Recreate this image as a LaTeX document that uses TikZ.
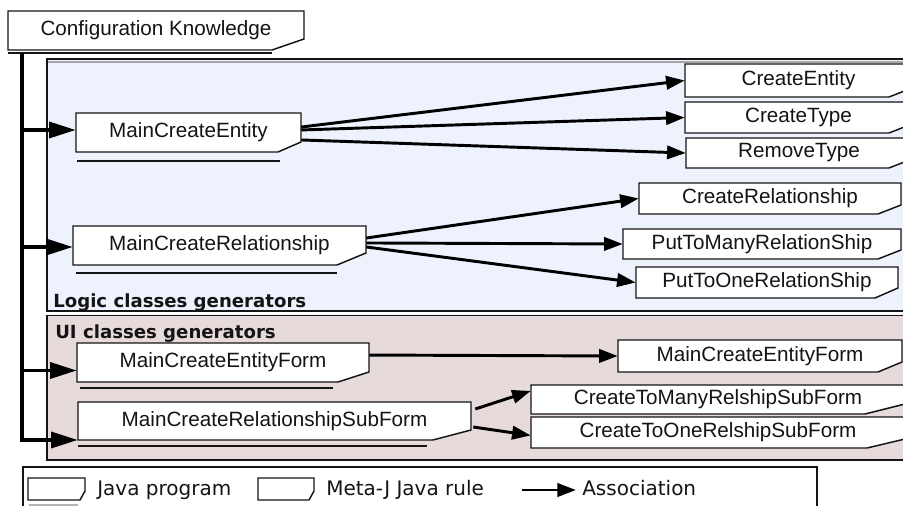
\documentclass[tikz,border=0pt]{standalone}
\usepackage{fontspec}
\setmainfont{Liberation Sans}
\newfontfamily\dvfont{DejaVu Sans}
\usetikzlibrary{arrows.meta,calc}
\definecolor{logicfill}{RGB}{238,242,253}
\definecolor{uifill}{RGB}{231,218,219}
\definecolor{inkc}{RGB}{20,20,20}
% #1 name, #2 x1, #3 y1, #4 x2, #5 y2, #6 chamfer width, #7 chamfer height, #8 text
\newcommand\jbox[8]{%
  \filldraw[boxline] (#2,#3) -- (#4,#3) -- (#4,{#5-#7}) -- ({#4-#6},#5) -- (#2,#5) -- cycle;
  \node[boxtext, minimum width={(#4-#2)*0.75pt}, minimum height={(#5-#3)*0.75pt}] (#1) at ({(#2+#4)/2},{(#3+#5)/2}) {#8};
}
\begin{document}
\begin{tikzpicture}[x=0.75pt,y=-0.75pt,
  boxline/.style={draw=inkc, fill=white, line width=1.1pt},
  boxtext/.style={inner sep=0pt, font=\fontsize{15.5}{18}\selectfont, text=inkc},
  uline/.style={draw=inkc, line width=1.1pt},
  assoc/.style={draw=black, line width=2.2pt, -{Triangle[length=14pt,width=10pt]}},
  trunkarrow/.style={draw=black, line width=2.6pt, -{Triangle[length=20pt,width=12pt]}},
  paneltitle/.style={inner sep=0pt, font=\dvfont\bfseries\fontsize{13.6}{15}\selectfont, text=inkc},
  legendtext/.style={inner sep=0pt, font=\dvfont\fontsize{15}{17}\selectfont, text=inkc}]
\useasboundingbox (0,0) rectangle (903,506);
\clip (0,0) rectangle (903,506);
% panels
\filldraw[fill=logicfill, draw=inkc, line width=0.9pt] (47,59) rectangle (920,311);
\draw[gray!70, line width=0.8pt] (48,62) -- (920,62);
\filldraw[fill=uifill, draw=inkc, line width=1.2pt] (47,315.5) rectangle (920,460);
\node[paneltitle, anchor=base west] (logic) at (53,307) {Logic classes generators};
\node[paneltitle, anchor=base west] (ui) at (55,338) {UI classes generators};
% configuration knowledge
\jbox{ck}{8}{11}{304}{50}{32}{11}{Configuration Knowledge}
\draw[uline] (8,53) -- (272,53);
% main generators (Java programs)
\jbox{mce}{76}{113}{301}{152}{23}{10}{MainCreateEntity}
\draw[uline] (77,161) -- (280,161);
\jbox{mcr}{73}{226}{366}{265}{29}{12}{MainCreateRelationship}
\draw[uline] (76,273) -- (337,273);
\jbox{mcef}{77}{343}{369}{382}{31}{10}{MainCreateEntityForm}
\draw[uline] (80,388) -- (333,388);
\jbox{mcrsf}{78}{402}{471}{440}{38}{10}{MainCreateRelationshipSubForm}
\draw[uline] (78,446) -- (427,446);
% rules
\jbox{ce}{685}{64}{912}{97}{23}{9}{CreateEntity}
\jbox{ct}{685}{102}{912}{133}{23}{9}{CreateType}
\jbox{rt}{686}{138}{912}{168}{23}{9}{RemoveType}
\jbox{cr}{639}{183}{901}{214}{23}{9}{CreateRelationship}
\jbox{ptm}{623}{229}{901}{259}{23}{9}{PutToManyRelationShip}
\jbox{pto}{636}{267}{898}{298}{23}{10}{PutToOneRelationShip}
\jbox{cef}{618}{340}{902}{372}{24}{10}{MainCreateEntityForm}
\jbox{ctm}{531}{385}{905}{414}{40}{10}{CreateToManyRelshipSubForm}
\jbox{cto}{531}{417}{905}{448}{38}{9}{CreateToOneRelshipSubForm}
% trunk
\coordinate (ttop) at (22,53);
\coordinate (b1) at (22,130);
\coordinate (b2) at (22,247);
\coordinate (b3) at (22,370.5);
\coordinate (b4) at (22,440);
\draw[trunkarrow] (ttop) -- (b4) -- (b4 -| mcrsf.west);
\draw[trunkarrow] (b1) -- (b1 -| mce.west);
\draw[trunkarrow] (b2) -- (b2 -| mcr.west);
\draw[trunkarrow] (b3) -- (b3 -| mcef.west);
% associations
\draw[assoc] ([yshift=4.1pt]mce.east) -- (ce.west);
\draw[assoc] ([yshift=1.9pt]mce.east) -- (ct.west);
\draw[assoc] ([yshift=-5.6pt]mce.east) -- (rt.west);
\draw[assoc] ([yshift=5.6pt]mcr.east) -- (cr.west);
\draw[assoc] ([yshift=1.9pt]mcr.east) -- (ptm.west);
\draw[assoc] ([yshift=-1.1pt]mcr.east) -- (pto.west);
\draw[assoc] ([yshift=5.6pt]mcef.east) -- (cef.west);
\draw[assoc] ([xshift=3pt,yshift=9pt]mcrsf.east) -- ([yshift=6.4pt]ctm.west);
\draw[assoc] ([xshift=1.5pt,yshift=-4.5pt]mcrsf.east) -- ([yshift=-2.2pt]cto.west);
% legend
\draw[draw=inkc, line width=1.1pt] (23,467) rectangle (817,530);
\filldraw[boxline] (28,478) -- (85,478) -- (85,491) -- (80,500) -- (28,500) -- cycle;
\draw[gray!60, line width=1.2pt] (29,505) -- (78,505);
\filldraw[boxline] (258,478) -- (314,478) -- (314,491) -- (309,500) -- (258,500) -- cycle;
\node[legendtext, anchor=base west] (ljp) at (97,495) {Java program};
\node[legendtext, anchor=base west] (lmj) at (326,495) {Meta-J Java rule};
\coordinate (la1) at (522,490);
\coordinate (la2) at (576,490);
\draw[assoc] (la1) -- (la2);
\node[legendtext, anchor=base west] (las) at (582,495) {Association};
\end{tikzpicture}
\end{document}
